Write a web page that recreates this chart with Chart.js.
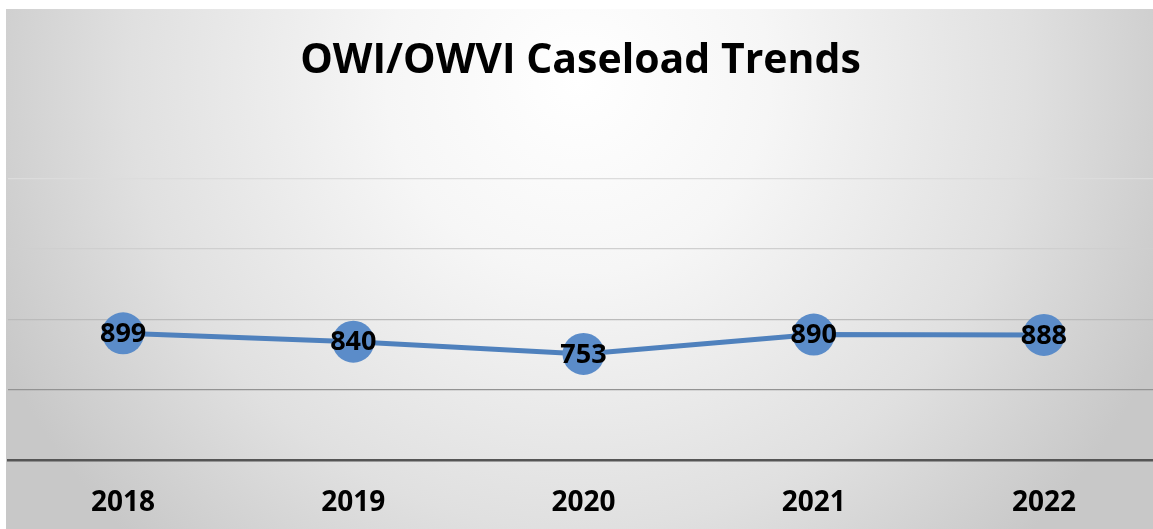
<!DOCTYPE html>
<html>
<head>
<meta charset="utf-8">
<script src="https://cdn.jsdelivr.net/npm/chart.js@4/dist/chart.umd.min.js"></script>
<style>
html,body{margin:0;padding:0;background:#fff;}
#wrap{width:1153px;height:529px;}
</style>
</head>
<body>
<div id="wrap"><canvas id="c" width="1153" height="529"></canvas></div>
<script>
const years = ["2018", "2019", "2020", "2021", "2022"];
const caseload = [899, 840, 753, 890, 888];
const yTicks = [0, 500, 1000, 1500, 2000];
const chartTitle = "OWI/OWVI Caseload Trends";

const bgPlugin = {
  id: 'bg',
  beforeDraw(chart) {
    const ctx = chart.ctx;
    ctx.save();
    ctx.fillStyle = '#ffffff';
    ctx.fillRect(0, 0, chart.width, chart.height);
    const g = ctx.createRadialGradient(578, 80, 0, 578, 80, 640);
    g.addColorStop(0, '#ffffff');
    g.addColorStop(0.3, '#f6f6f6');
    g.addColorStop(0.7, '#e0e0e0');
    g.addColorStop(1, '#c8c8c8');
    ctx.fillStyle = g;
    ctx.fillRect(6, 9, chart.width - 6, chart.height - 9);
    ctx.restore();
  }
};

// widen the plot area slightly past the right canvas edge, as in the original
const widenPlugin = {
  id: 'widen',
  afterLayout(chart) {
    const x = chart.scales.x;
    const newRight = x.left + 1151;
    x.right = newRight;
    x.width = newRight - x.left;
    x.configure();
    chart.chartArea.right = newRight;
    chart.chartArea.width = newRight - chart.chartArea.left;
    const y = chart.scales.y;
    y.configure();
  }
};

const labelPlugin = {
  id: 'valLabels',
  afterDatasetsDraw(chart) {
    const ctx = chart.ctx;
    const meta = chart.getDatasetMeta(0);
    ctx.save();
    ctx.font = 'bold 27px "Open Sans"';
    ctx.fillStyle = '#000';
    ctx.textAlign = 'center';
    ctx.textBaseline = 'middle';
    meta.data.forEach((pt, i) => {
      ctx.fillText(String(caseload[i]), pt.x, pt.y + 1);
    });
    ctx.restore();
  }
};

const gridColors = {500: '#939393', 1000: '#bbbbbb', 1500: '#cfcfcf', 2000: '#dcdcdc'};

new Chart(document.getElementById('c'), {
  type: 'line',
  data: {
    labels: years,
    datasets: [{
      data: caseload,
      borderColor: '#4f81bd',
      borderWidth: 5,
      backgroundColor: '#5b8cc9',
      pointBackgroundColor: '#5b8cc9',
      pointBorderColor: '#5b8cc9',
      pointBorderWidth: 0,
      pointRadius: 21,
      pointHoverRadius: 21,
      tension: 0,
      clip: false
    }]
  },
  options: {
    responsive: false,
    animation: false,
    events: [],
    layout: {autoPadding: false, padding: {left: 8, right: 0, top: 0, bottom: 16}},
    plugins: {
      legend: {display: false},
      tooltip: {enabled: false},
      title: {
        display: true,
        text: chartTitle,
        color: '#000',
        font: {family: '"Open Sans"', size: 41, weight: 'bold'},
        padding: {top: 37, bottom: 92}
      }
    },
    scales: {
      x: {
        offset: true,
        grid: {display: false, drawTicks: false},
        border: {display: true, color: '#555555', width: 2.5},
        afterFit(scale) { scale.height = 53; },
        ticks: {
          color: '#000',
          font: {family: '"Open Sans"', size: 28, weight: 'bold'},
          padding: 26
        }
      },
      y: {
        min: yTicks[0],
        max: yTicks[yTicks.length - 1],
        afterBuildTicks(scale) { scale.ticks = yTicks.map(v => ({value: v})); },
        ticks: {display: false},
        border: {display: false},
        grid: {
          drawTicks: false,
          lineWidth: 1.2,
          color: (c) => c.tick && gridColors[c.tick.value] ? gridColors[c.tick.value] : 'rgba(0,0,0,0)'
        }
      }
    }
  },
  plugins: [bgPlugin, widenPlugin, labelPlugin]
});
</script>
</body>
</html>
